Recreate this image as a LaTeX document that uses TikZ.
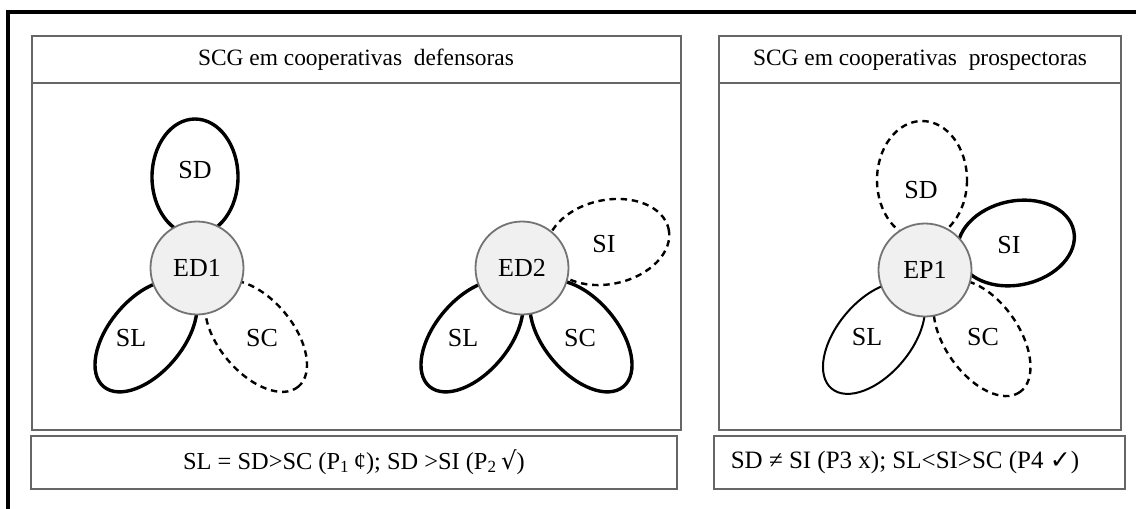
\documentclass[tikz,border=0pt]{standalone}
\usepackage{fontspec}
\setmainfont{Liberation Serif}
\newfontfamily\symfont{DejaVu Sans}
\begin{document}
\begin{tikzpicture}[x=0.5pt,y=-0.5pt,
	panel/.style={draw=black!60,line width=0.6pt},
	hub/.style={circle,draw=black!55,line width=0.9pt,fill=black!6,minimum size=46.5pt,inner sep=0pt,font=\fontsize{13}{15}\selectfont},
	lbl/.style={font=\fontsize{13}{15}\selectfont,inner sep=0pt},
	strong/.style={line width=1.7pt},
	plain/.style={line width=1pt},
	weak/.style={line width=1.2pt,dash pattern=on 3.2pt off 2.4pt},
	title/.style={font=\fontsize{11.7}{14}\selectfont,inner sep=0pt},
	formula/.style={font=\fontsize{12.2}{14}\selectfont,inner sep=0pt}]
\useasboundingbox (0,0) rectangle (1136,509);
% outer frame
\draw[line width=1.6pt] (8,509) -- (8,12) -- (1136,12);
% panels
\draw[panel] (32,36) rectangle (681,430);
\draw[panel] (32,83) -- (681,83);
\draw[panel] (31,436) rectangle (677,489);
\draw[panel] (719,36) rectangle (1121,430);
\draw[panel] (719,83) -- (1121,83);
\draw[panel] (714,436) rectangle (1125,489);
\path
	(356,60) node[title] (titleD) {SCG em cooperativas\ \ defensoras}
	(920,60) node[title] (titleP) {SCG em cooperativas\ \ prospectoras}
	(354,462) node[formula] (formD) {SL = SD>SC (P\textsubscript{1}\,¢); SD >SI (P\textsubscript{2}\,{\symfont √})}
	(905,462) node[formula,font=\fontsize{12.5}{14}\selectfont] (formP) {SD ≠ SI (P3 x); SL<SI>SC (P4 {\symfont ✓})};
% ED1
\draw[strong] (195,177) ellipse [x radius=43, y radius=58];
\draw[strong, rotate around={50:(146,336)}] (146,336) ellipse [x radius=66, y radius=37];
\draw[weak, rotate around={-50:(256,336)}] (256,336) ellipse [x radius=66, y radius=37];
\node[hub] (ED1) at (197,268) {ED1};
\path
	(195,170) node[lbl] (sdA) {SD}
	(131,338) node[lbl] (slA) {SL}
	(262,338) node[lbl] (scA) {SC};
% ED2
\draw[weak, rotate around={12:(608,242)}] (608,242) ellipse [x radius=62, y radius=42];
\draw[strong, rotate around={50:(472,336)}] (472,336) ellipse [x radius=66, y radius=37];
\draw[strong, rotate around={-50:(581,336)}] (581,336) ellipse [x radius=66, y radius=37];
\node[hub] (ED2) at (522,268) {ED2};
\path
	(604,244) node[lbl] (siB) {SI}
	(463,338) node[lbl] (slB) {SL}
	(580,338) node[lbl] (scB) {SC};
% EP1
\draw[weak] (922,180) ellipse [x radius=45, y radius=59];
\draw[strong, rotate around={12:(1016,243)}] (1016,243) ellipse [x radius=59, y radius=42];
\draw[plain, rotate around={50:(874,338)}] (874,338) ellipse [x radius=66, y radius=37];
\draw[weak, rotate around={-55:(982,338)}] (982,338) ellipse [x radius=66, y radius=37];
\node[hub] (EP1) at (925,270) {EP1};
\path
	(921,190) node[lbl] (sdC) {SD}
	(1009,245) node[lbl] (siC) {SI}
	(867,337) node[lbl] (slC) {SL}
	(983,337) node[lbl] (scC) {SC};
\end{tikzpicture}
\end{document}
